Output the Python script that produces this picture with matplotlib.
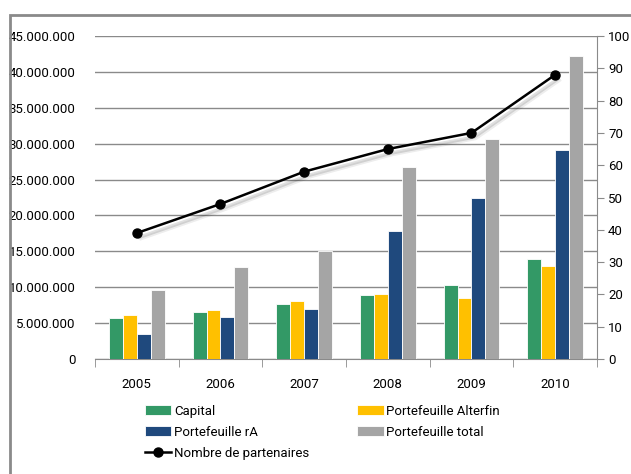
import numpy as np
import matplotlib
matplotlib.use("Agg")
import matplotlib.pyplot as plt
import matplotlib.patheffects as pe
from matplotlib.patches import Rectangle
from matplotlib.ticker import FuncFormatter, MultipleLocator

plt.rcParams['font.family'] = ['Roboto', 'DejaVu Sans']

# data
years = ['2005', '2006', '2007', '2008', '2009', '2010']
capital = [5.7e6, 6.5e6, 7.7e6, 8.9e6, 10.3e6, 13.9e6]
alterfin = [6.1e6, 6.8e6, 8.1e6, 9.05e6, 8.45e6, 12.95e6]
portefeuille_ra = [3.5e6, 5.85e6, 7.0e6, 17.8e6, 22.4e6, 29.1e6]
portefeuille_total = [9.6e6, 12.8e6, 15.0e6, 26.7e6, 30.6e6, 42.2e6]
partenaires = [39, 48, 58, 65, 70, 88]

series = [
    ('Capital', capital, '#339966'),
    ('Portefeuille Alterfin', alterfin, '#FFC000'),
    ('Portefeuille rA', portefeuille_ra, '#1F497D'),
    ('Portefeuille total', portefeuille_total, '#A5A5A5'),
]

fs = 9.5
fig = plt.figure(figsize=(6.31, 4.74), dpi=100)
ax = fig.add_axes([95 / 631, 115 / 474, 502 / 631, 323 / 474])

x = np.arange(len(years))
w = 0.167
handles = {}
for i, (name, vals, col) in enumerate(series):
    b = ax.bar(x + (i - 1.5) * w, vals, w, color=col, edgecolor='white',
               linewidth=0.6, zorder=3, label=name)
    handles[name] = b

ax.set_xlim(-0.5, len(years) - 0.5)
ax.set_ylim(0, 45e6)
ax.yaxis.set_major_locator(MultipleLocator(5e6))
ax.yaxis.set_major_formatter(FuncFormatter(lambda v, p: f'{int(v):,}'.replace(',', '.')))
ax.grid(axis='y', color='#8a8a8a', linewidth=1, zorder=0)
ax.set_axisbelow(True)

ax.set_xticks(x)
ax.set_xticklabels(years)
ax.set_xticks(np.arange(-0.5, len(years)), minor=True)
ax.tick_params(axis='x', which='major', length=0, pad=14, labelsize=fs)
ax.tick_params(axis='x', which='minor', length=6, color='#8a8a8a')
ax.tick_params(axis='y', length=0, labelsize=fs, pad=14)

for s in ['top', 'left', 'right']:
    ax.spines[s].set_visible(False)
ax.spines['bottom'].set_color('#8a8a8a')

ax2 = ax.twinx()
ax2.set_ylim(0, 100)
ax2.yaxis.set_major_locator(MultipleLocator(10))
ax2.tick_params(axis='y', length=5, color='#8a8a8a', labelsize=fs, pad=3)
for s in ['top', 'left', 'bottom']:
    ax2.spines[s].set_visible(False)
ax2.spines['right'].set_color('#8a8a8a')

# soft shadow under the line, then the line itself
for off, a in [((2, -3), 0.12), ((3, -4), 0.07)]:
    ax2.plot(x, partenaires, color='black', linewidth=2.5, zorder=4, alpha=0,
             path_effects=[pe.SimpleLineShadow(offset=off, alpha=a, shadow_color='black')])
line, = ax2.plot(x, partenaires, color='black', linewidth=1.8, marker='o',
                 markersize=6.5, label='Nombre de partenaires', zorder=5)

# frame around the chart
fig.patches.append(Rectangle((10 / 631, -0.01), 1.0, (474 - 15) / 474 + 0.01,
                             transform=fig.transFigure, fill=False,
                             edgecolor='#8a8a8a', linewidth=2))

hs = [handles['Capital'], handles['Portefeuille rA'], line,
      handles['Portefeuille Alterfin'], handles['Portefeuille total']]
ls = ['Capital', 'Portefeuille rA', 'Nombre de partenaires',
      'Portefeuille Alterfin', 'Portefeuille total']
fig.legend(hs, ls, ncol=2, loc='upper left', bbox_to_anchor=(133 / 631, 1 - 393 / 474),
           frameon=False, fontsize=fs, handlelength=2.0, handleheight=0.75,
           handletextpad=0.2, columnspacing=3.65, labelspacing=0.6)

fig.savefig('out.png', dpi=100)
